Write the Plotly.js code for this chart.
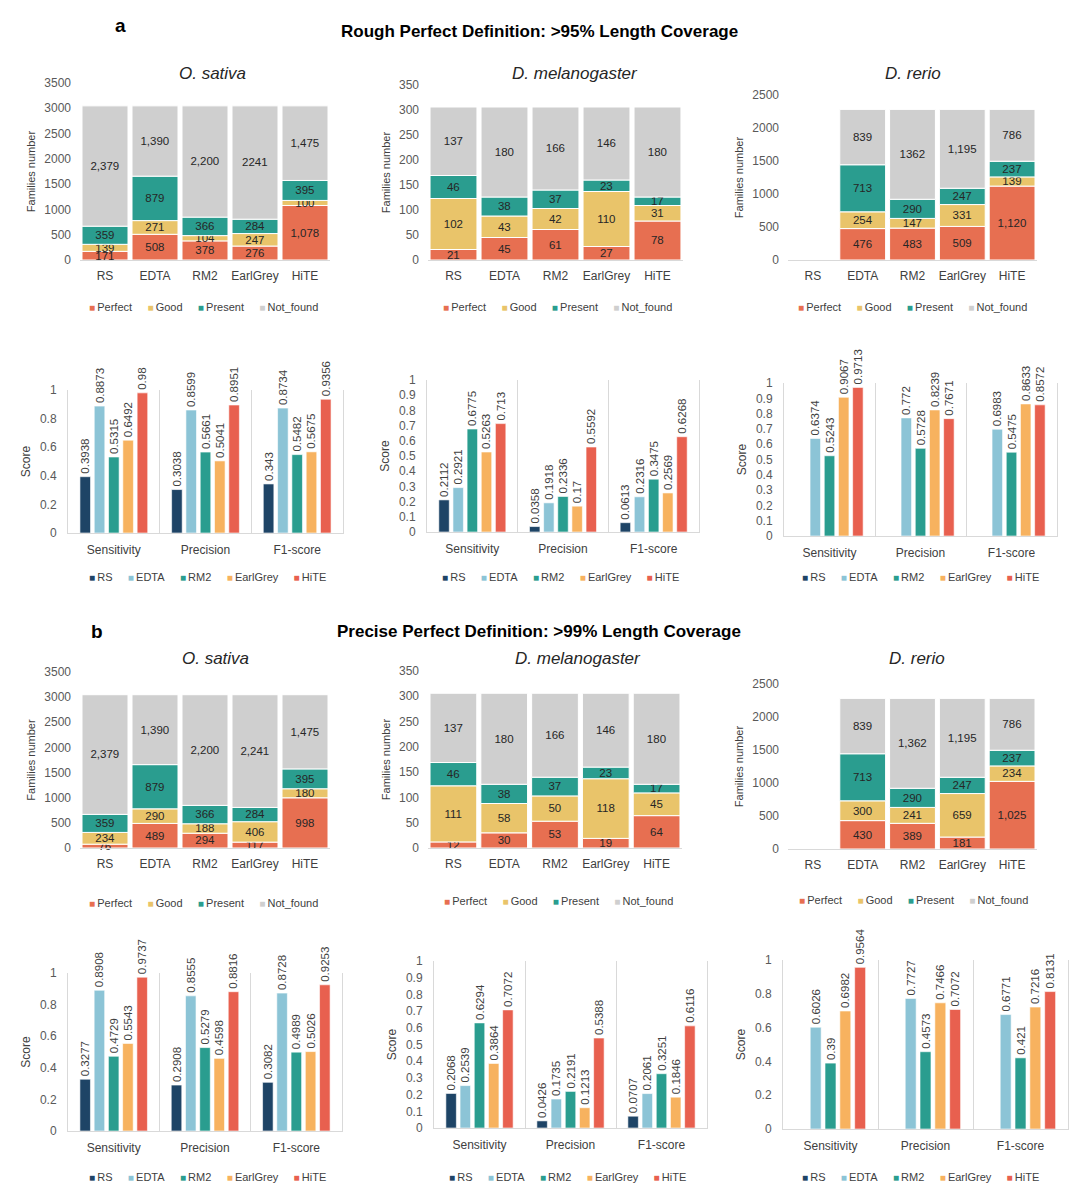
<!DOCTYPE html>
<html><head><meta charset="utf-8">
<script src="https://cdn.plot.ly/plotly-3.0.1.min.js"></script>
<style>html,body{margin:0;padding:0;background:#fff}#chart{width:1080px;height:1199px}</style>
</head><body><div id="chart"></div>
<script>
// ---------------- DATA ----------------
const tools = ['RS', 'EDTA', 'RM2', 'EarlGrey', 'HiTE'];
const statuses = ['Perfect', 'Good', 'Present', 'Not_found'];
const metrics = ['Sensitivity', 'Precision', 'F1-score'];
const species = ['O. sativa', 'D. melanogaster', 'D. rerio'];

// (a) Rough perfect: >95% length coverage — family counts
const osA_perfect  = [171, 508, 378, 276, 1078];
const osA_good     = [139, 271, 104, 247, 100];
const osA_present  = [359, 879, 366, 284, 395];
const osA_notfound = [2379, 1390, 2200, 2241, 1475];

const dmA_perfect  = [21, 45, 61, 27, 78];
const dmA_good     = [102, 43, 42, 110, 31];
const dmA_present  = [46, 38, 37, 23, 17];
const dmA_notfound = [137, 180, 166, 146, 180];

const drA_perfect  = [null, 476, 483, 509, 1120];
const drA_good     = [null, 254, 147, 331, 139];
const drA_present  = [null, 713, 290, 247, 237];
const drA_notfound = [null, 839, 1362, 1195, 786];

// (b) Precise perfect: >99% length coverage — family counts
const osB_perfect  = [76, 489, 294, 117, 998];
const osB_good     = [234, 290, 188, 406, 180];
const osB_present  = [359, 879, 366, 284, 395];
const osB_notfound = [2379, 1390, 2200, 2241, 1475];

const dmB_perfect  = [12, 30, 53, 19, 64];
const dmB_good     = [111, 58, 50, 118, 45];
const dmB_present  = [46, 38, 37, 23, 17];
const dmB_notfound = [137, 180, 166, 146, 180];

const drB_perfect  = [null, 430, 389, 181, 1025];
const drB_good     = [null, 300, 241, 659, 234];
const drB_present  = [null, 713, 290, 247, 237];
const drB_notfound = [null, 839, 1362, 1195, 786];

// labels printed without thousands separator in the original (panel a)
const plainLabelsA = [2241, 1362];

// Scores (Sensitivity, Precision, F1-score) per tool
const osA_RS = [0.3938, 0.3038, 0.343];
const osA_EDTA = [0.8873, 0.8599, 0.8734];
const osA_RM2 = [0.5315, 0.5661, 0.5482];
const osA_EarlGrey = [0.6492, 0.5041, 0.5675];
const osA_HiTE = [0.98, 0.8951, 0.9356];

const dmA_RS = [0.2112, 0.0358, 0.0613];
const dmA_EDTA = [0.2921, 0.1918, 0.2316];
const dmA_RM2 = [0.6775, 0.2336, 0.3475];
const dmA_EarlGrey = [0.5263, 0.17, 0.2569];
const dmA_HiTE = [0.713, 0.5592, 0.6268];

const drA_RS = [null, null, null];
const drA_EDTA = [0.6374, 0.772, 0.6983];
const drA_RM2 = [0.5243, 0.5728, 0.5475];
const drA_EarlGrey = [0.9067, 0.8239, 0.8633];
const drA_HiTE = [0.9713, 0.7671, 0.8572];

const osB_RS = [0.3277, 0.2908, 0.3082];
const osB_EDTA = [0.8908, 0.8555, 0.8728];
const osB_RM2 = [0.4729, 0.5279, 0.4989];
const osB_EarlGrey = [0.5543, 0.4598, 0.5026];
const osB_HiTE = [0.9737, 0.8816, 0.9253];

const dmB_RS = [0.2068, 0.0426, 0.0707];
const dmB_EDTA = [0.2539, 0.1735, 0.2061];
const dmB_RM2 = [0.6294, 0.2191, 0.3251];
const dmB_EarlGrey = [0.3864, 0.1213, 0.1846];
const dmB_HiTE = [0.7072, 0.5388, 0.6116];

const drB_RS = [null, null, null];
const drB_EDTA = [0.6026, 0.7727, 0.6771];
const drB_RM2 = [0.39, 0.4573, 0.421];
const drB_EarlGrey = [0.6982, 0.7466, 0.7216];
const drB_HiTE = [0.9564, 0.7072, 0.8131];

// ---------------- STYLE / LAYOUT ----------------
const W = 1080, H = 1199;
const FONT = 'Liberation Sans, Arial, Helvetica, sans-serif';
const statusColors = ['#E76F51', '#E9C46A', '#2A9D8F', '#CFCFCF'];
const toolColors = ['#1E4466', '#8CC4D6', '#2A9D8F', '#F7B25F', '#E8604F'];
const fx = p => p / W;
const fy = p => 1 - p / H;

// panel boxes in px: [x0, x1, yTop, yBottom], legend centre, y-range, dtick
const stackPanels = [
  {k: 1, box: [80, 330, 83, 260], max: 3500, dtick: 500, leg: [203, 307], series: [osA_perfect, osA_good, osA_present, osA_notfound], plain: plainLabelsA},
  {k: 2, box: [428, 683, 85, 260], max: 350, dtick: 50, leg: [557, 307], series: [dmA_perfect, dmA_good, dmA_present, dmA_notfound], plain: plainLabelsA},
  {k: 3, box: [788, 1037, 95, 260], max: 2500, dtick: 500, leg: [912, 307], series: [drA_perfect, drA_good, drA_present, drA_notfound], plain: plainLabelsA},
  {k: 7, box: [80, 330, 672, 848], max: 3500, dtick: 500, leg: [203, 903], series: [osB_perfect, osB_good, osB_present, osB_notfound], plain: []},
  {k: 8, box: [428, 682, 671, 848], max: 350, dtick: 50, leg: [558, 901], series: [dmB_perfect, dmB_good, dmB_present, dmB_notfound], plain: []},
  {k: 9, box: [788, 1037, 684, 849], max: 2500, dtick: 500, leg: [913, 900], series: [drB_perfect, drB_good, drB_present, drB_notfound], plain: []}
];
const scorePanels = [
  {k: 4, box: [68, 343, 390, 533], dtick: 0.2, leg: [207, 577], series: [osA_RS, osA_EDTA, osA_RM2, osA_EarlGrey, osA_HiTE]},
  {k: 5, box: [427, 699, 380, 532], dtick: 0.1, leg: [560, 577], series: [dmA_RS, dmA_EDTA, dmA_RM2, dmA_EarlGrey, dmA_HiTE]},
  {k: 6, box: [784, 1057, 383, 536], dtick: 0.1, leg: [920, 577], series: [drA_RS, drA_EDTA, drA_RM2, drA_EarlGrey, drA_HiTE]},
  {k: 10, box: [68, 342, 973, 1131], dtick: 0.2, leg: [207, 1177], series: [osB_RS, osB_EDTA, osB_RM2, osB_EarlGrey, osB_HiTE]},
  {k: 11, box: [434, 707, 961, 1128], dtick: 0.1, leg: [567, 1177], series: [dmB_RS, dmB_EDTA, dmB_RM2, dmB_EarlGrey, dmB_HiTE]},
  {k: 12, box: [783, 1068, 960, 1129], dtick: 0.2, leg: [920, 1177], series: [drB_RS, drB_EDTA, drB_RM2, drB_EarlGrey, drB_HiTE]}
];

const suffix = k => (k === 1 ? '' : String(k));
const fmt = (v, plain) => v == null ? '' : (plain.indexOf(v) >= 0 ? String(v) : v.toLocaleString('en-US'));

const traces = [];
const layout = {
  width: W, height: H,
  margin: {l: 0, r: 0, t: 0, b: 0},
  paper_bgcolor: '#fff', plot_bgcolor: 'rgba(0,0,0,0)',
  font: {family: FONT, color: '#404040'},
  barmode: 'group', bargap: 0.22, bargroupgap: 0.26,
  showlegend: false,
  uniformtext: {mode: 'show', minsize: 11},
  annotations: [], shapes: []
};

// compact legend rows (Excel style): small coloured square + name
const NB = '\u00a0';
function legendAnn(p, names, colors) {
  const txt = names.map((n, i) =>
    '<span style="color:' + colors[i] + ';font-size:10px">\u25A0</span>' + '\u2009' + n).join(NB + NB + NB + NB + NB);
  layout.annotations.push({
    text: txt, x: fx(p.leg[0]), y: fy(p.leg[1]), xref: 'paper', yref: 'paper',
    xanchor: 'center', yanchor: 'middle', showarrow: false,
    font: {size: 11, color: '#404040', family: FONT}
  });
}

stackPanels.forEach(p => {
  const s = suffix(p.k);
  const cum = tools.map(() => 0);
  p.series.forEach((vals, si) => {
    const base = cum.slice();
    vals.forEach((v, i) => { cum[i] += (v || 0); });
    traces.push({
      type: 'bar', name: statuses[si], x: tools, y: vals, base: base,
      xaxis: 'x' + s, yaxis: 'y' + s,
      offsetgroup: 'stack', width: 0.92,
      marker: {color: statusColors[si], line: {color: '#ffffff', width: 1}},
      text: vals.map(v => fmt(v, p.plain)), textposition: 'inside', insidetextanchor: 'middle',
      textangle: 0, constraintext: 'none', cliponaxis: false,
      textfont: {size: 12, color: '#262626', family: FONT},
      hoverinfo: 'name+y'
    });
  });
  layout['xaxis' + s] = {
    domain: [fx(p.box[0]), fx(p.box[1])], anchor: 'y' + s, type: 'category',
    categoryorder: 'array', categoryarray: tools, range: [-0.5, 4.5],
    showline: true, linecolor: '#D9D9D9', linewidth: 1, showgrid: false, zeroline: false,
    ticks: '', ticklabelstandoff: 5, tickfont: {size: 12, color: '#404040', family: FONT}, fixedrange: true
  };
  layout['yaxis' + s] = {
    domain: [fy(p.box[3]), fy(p.box[2])], anchor: 'x' + s, range: [0, p.max], dtick: p.dtick, tick0: 0,
    showline: false, showgrid: false, zeroline: false, ticks: '', ticklabelstandoff: 8,
    tickfont: {size: 12, color: '#595959', family: FONT}, fixedrange: true,
    title: {text: 'Families number', font: {size: 11, color: '#404040', family: FONT}, standoff: 6}
  };
  legendAnn(p, statuses, statusColors);
});

scorePanels.forEach(p => {
  const s = suffix(p.k);
  p.series.forEach((vals, ti) => {
    traces.push({
      type: 'bar', name: tools[ti], x: metrics, y: vals,
      xaxis: 'x' + s, yaxis: 'y' + s,
      marker: {color: toolColors[ti], line: {color: '#ffffff', width: 0.6}},
      text: vals.map(v => v == null ? '' : String(v)), textposition: 'outside', textangle: -90,
      constraintext: 'none', cliponaxis: false,
      textfont: {size: 11.5, color: '#404040', family: FONT},
      hoverinfo: 'name+y'
    });
  });
  layout['xaxis' + s] = {
    domain: [fx(p.box[0]), fx(p.box[1])], anchor: 'y' + s, type: 'category',
    categoryorder: 'array', categoryarray: metrics, range: [-0.5, 2.5],
    tickson: 'boundaries', showgrid: true, gridcolor: '#D9D9D9', gridwidth: 1,
    showline: true, linecolor: '#D9D9D9', linewidth: 1, zeroline: false,
    ticks: '', ticklabelstandoff: 6, tickfont: {size: 12, color: '#404040', family: FONT}, fixedrange: true
  };
  layout['yaxis' + s] = {
    domain: [fy(p.box[3]), fy(p.box[2])], anchor: 'x' + s, range: [0, 1], dtick: p.dtick, tick0: 0,
    showline: true, mirror: true, linecolor: '#D9D9D9', linewidth: 1,
    showgrid: false, zeroline: false, ticks: '', ticklabelstandoff: 8,
    tickfont: {size: 12, color: '#595959', family: FONT}, fixedrange: true,
    title: {text: 'Score', font: {size: 12, color: '#404040', family: FONT}, standoff: 6}
  };
  legendAnn(p, tools, toolColors);
});

// species titles
const titlePos = [[212, 73], [575, 73], [913, 73], [215, 659], [578, 659], [917, 659]];
titlePos.forEach((t, i) => {
  layout.annotations.push({
    text: species[i % 3], x: fx(t[0]), y: fy(t[1]), xref: 'paper', yref: 'paper',
    xanchor: 'center', yanchor: 'middle', showarrow: false,
    font: {size: 17, color: '#262626', family: FONT, style: 'italic'}
  });
});
// section labels and headings
[['a', 120, 25, 19], ['b', 97, 631, 19]].forEach(a => {
  layout.annotations.push({text: '<b>' + a[0] + '</b>', x: fx(a[1]), y: fy(a[2]), xref: 'paper', yref: 'paper',
    xanchor: 'center', yanchor: 'middle', showarrow: false, font: {size: a[3], color: '#000', family: FONT}});
});
[['Rough Perfect Definition: >95% Length Coverage', 539, 32], ['Precise Perfect Definition: >99% Length Coverage', 539, 631]].forEach(a => {
  layout.annotations.push({text: '<b>' + a[0] + '</b>', x: fx(a[1]), y: fy(a[2]), xref: 'paper', yref: 'paper',
    xanchor: 'center', yanchor: 'middle', showarrow: false, font: {size: 17, color: '#000', family: FONT}});
});

Plotly.newPlot('chart', traces, layout, {displayModeBar: false});
</script>
</body></html>
